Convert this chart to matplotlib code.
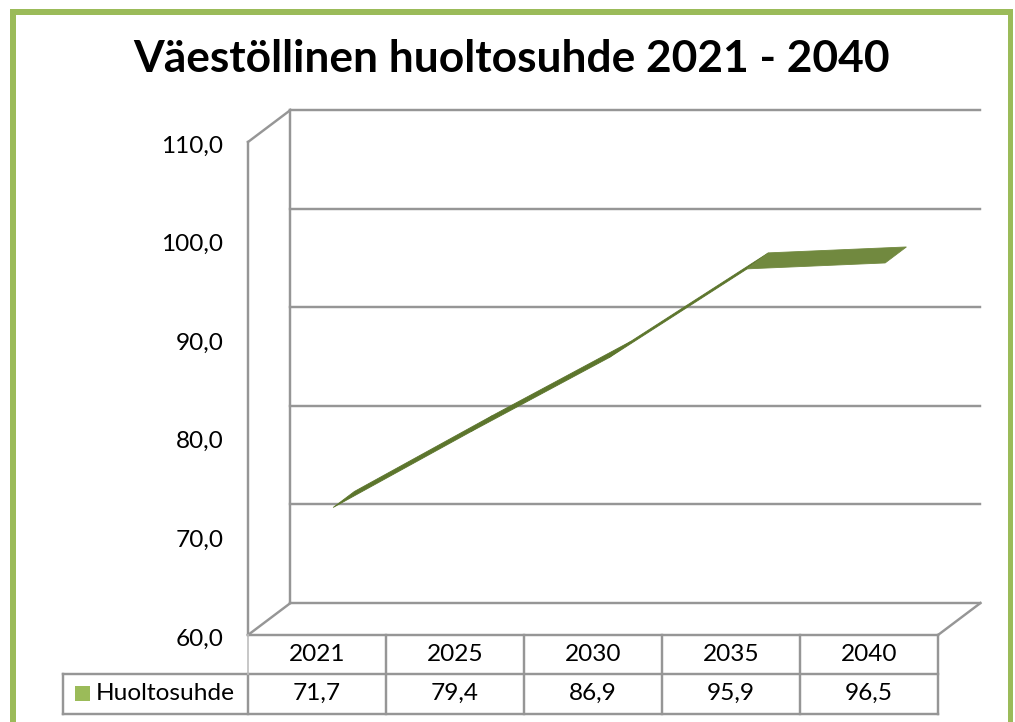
import matplotlib
matplotlib.use("Agg")
import matplotlib.pyplot as plt
from matplotlib.patches import Polygon, Rectangle

title = "Väestöllinen huoltosuhde 2021 - 2040"
categories = ["2021", "2025", "2030", "2035", "2040"]
series_name = "Huoltosuhde"
values = [71.7, 79.4, 86.9, 95.9, 96.5]
value_labels = ["71,7", "79,4", "86,9", "95,9", "96,5"]
axis_ticks = [60, 70, 80, 90, 100, 110]
axis_tick_labels = ["60,0", "70,0", "80,0", "90,0", "100,0", "110,0"]

GRID = "#969696"
GREEN = "#9BBB59"
FONT = ["Lato", "DejaVu Sans"]
LW = 1.75

W, H = 1015, 722
fig = plt.figure(figsize=(W / 100, H / 100), dpi=100)
ax = fig.add_axes([0, 0, 1, 1])
ax.set_xlim(0, W)
ax.set_ylim(H, 0)
ax.axis("off")

# oblique projection of the chart box
X0, X1 = 248, 938
Y60, Y110 = 635, 142
DX, DY = 42.5, -32
n = len(categories)
col = (X1 - X0) / n
vy = lambda v: Y60 + (v - 60) * (Y110 - Y60) / 50
cx = lambda i: X0 + (i + 0.5) * col

def px(i, v, depth):
    return cx(i) + DX * depth, vy(v) + DY * depth

def line(xs, ys, color=GRID, lw=LW):
    ax.plot(xs, ys, color=color, lw=lw, solid_capstyle="projecting", zorder=2)

# outer border (runs off the bottom of the picture)
ax.add_patch(Rectangle((10, 9), 6, H, fc=GREEN, ec="none"))
ax.add_patch(Rectangle((10, 9), 1003.5, 5.5, fc=GREEN, ec="none"))
ax.add_patch(Rectangle((1008, 9), 5.5, H, fc=GREEN, ec="none"))

# back wall gridlines, walls, floor
for t in axis_ticks:
    if t in (60, 110):
        line([X0, X0 + DX], [vy(t), vy(t) + DY])
    line([X0 + DX, X1 + DX], [vy(t) + DY, vy(t) + DY])
line([X0, X0], [vy(60), vy(110)])
line([X0 + DX, X0 + DX], [vy(60) + DY, vy(110) + DY])
line([X1, X1 + DX], [vy(60), vy(60) + DY])

# ribbon
D_FRONT, D_BACK = 0.38, 0.88
for i in range(n - 1):
    a, b = values[i], values[i + 1]
    poly = [px(i, a, D_FRONT), px(i + 1, b, D_FRONT),
            px(i + 1, b, D_BACK), px(i, a, D_BACK)]
    flat = abs(b - a) < 2
    ax.add_patch(Polygon(poly, closed=True, fc="#71893F" if flat else "#5C752C",
                         ec="#71893F" if flat else "#5C752C", lw=0.6, zorder=3))

# data table
Y_T0, Y_T1, Y_T2 = 635, 674, 714
LEG_X = 63
line([X0, X1], [Y_T0, Y_T0])
line([LEG_X, X1], [Y_T1, Y_T1])
line([LEG_X, X1], [Y_T2, Y_T2])
line([LEG_X, LEG_X], [Y_T1, Y_T2])
line([X0, X0], [Y_T1, Y_T2])
line([X0, X0], [Y_T0, Y_T1], color="#BDBDBD", lw=1.2)
for i in range(1, n + 1):
    line([X0 + i * col] * 2, [Y_T0, Y_T2])
ax.add_patch(Rectangle((75, 686), 15, 15, fc=GREEN, ec="none", zorder=3))

TXT = dict(family=FONT, color="black", fontsize=17.6, va="center", zorder=4)
for i, (c, v) in enumerate(zip(categories, value_labels)):
    ax.text(cx(i), 654.5, c, ha="center", **TXT)
    ax.text(cx(i), 693, v, ha="center", **TXT)
ax.text(96, 693, series_name, ha="left", **TXT)
for t, l in zip(axis_ticks, axis_tick_labels):
    ax.text(223.5, vy(t) + 4, l, ha="right", **TXT)

ax.text(511.5, 58.5, title, ha="center", va="center", family=FONT,
        fontweight="bold", fontsize=31.9, color="black", zorder=4)

fig.savefig("out.png", dpi=100)
